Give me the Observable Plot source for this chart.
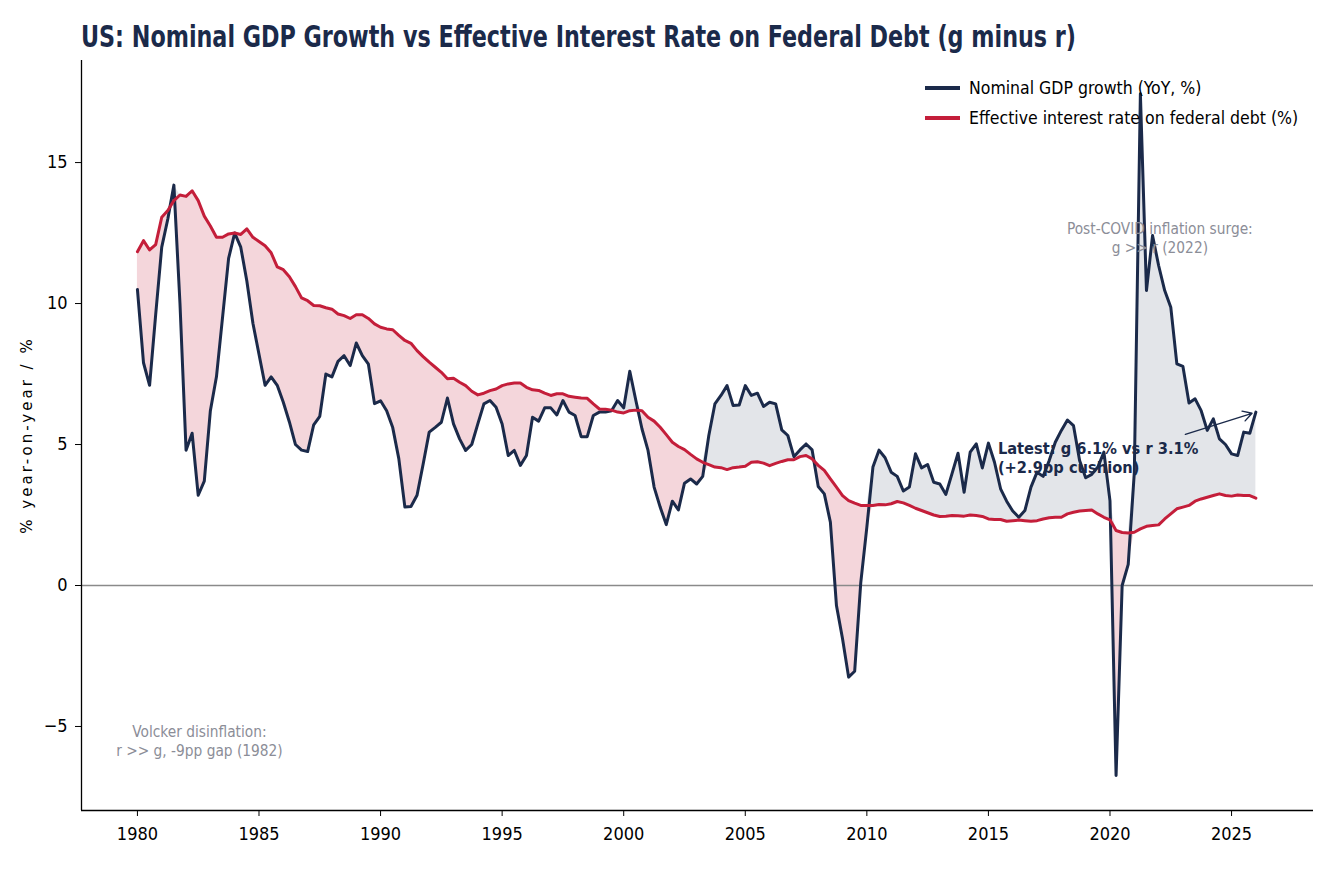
<!DOCTYPE html>
<html>
<head>
<meta charset="utf-8">
<script src="https://cdn.jsdelivr.net/npm/d3@7"></script>
<script src="https://cdn.jsdelivr.net/npm/@observablehq/plot@0.6"></script>
<style>
  body { margin: 0; background: #fff; }
  #wrap { position: relative; width: 1336px; height: 874px; overflow: hidden; }
  #title { position: absolute; left: 81px; top: 22px; font-family: "DejaVu Sans Condensed"; font-weight: bold; font-size: 30px; line-height: 30px; color: #1b2a4a; white-space: nowrap; transform-origin: 0 50%; }
  #ylabel { position: absolute; left: 27px; top: 435px; transform: translate(-50%, -50%) rotate(-90deg); font-family: "DejaVu Sans"; font-size: 15px; letter-spacing: 3px; color: #000; white-space: nowrap; }
  #legend { position: absolute; left: 925px; top: 73px; font-family: "DejaVu Sans Condensed"; font-size: 17.5px; color: #000; }
  .item { display: flex; align-items: center; height: 30px; }
  .sw { width: 35px; height: 3.2px; margin-right: 9px; }
</style>
</head>
<body>
<div id="wrap">
  <div id="chart"></div>
  <div id="title">US: Nominal GDP Growth vs Effective Interest Rate on Federal Debt (g minus r)</div>
  <div id="ylabel">% year-on-year / %</div>
  <div id="legend"></div>
</div>
<script>
// Quarterly observations starting 1980 Q1
const startYear = 1980;

// Nominal GDP growth, YoY %
const gdpGrowth = [
  10.5, 7.9, 7.1, 9.6,
  12.0, 13.0, 14.2, 10.0,
  4.8, 5.4, 3.2, 3.7,
  6.2, 7.4, 9.5, 11.6,
  12.5, 12.0, 10.8, 9.3,
  8.2, 7.1, 7.4, 7.1,
  6.5, 5.8, 5.0, 4.8,
  4.75, 5.7, 6.0, 7.5,
  7.4, 7.95, 8.15, 7.8,
  8.6, 8.15, 7.85, 6.45,
  6.55, 6.2, 5.6, 4.5,
  2.78, 2.8, 3.2, 4.3,
  5.44, 5.61, 5.79, 6.65,
  5.73, 5.2, 4.79, 5.0,
  5.73, 6.44, 6.56, 6.32,
  5.73, 4.61, 4.79, 4.26,
  4.61, 5.97, 5.83, 6.3,
  6.3, 6.05, 6.56, 6.15,
  6.03, 5.28, 5.28, 6.03,
  6.15, 6.15, 6.2, 6.56,
  6.3, 7.6, 6.56, 5.56,
  4.79, 3.49, 2.78, 2.16,
  2.99, 2.68, 3.63, 3.78,
  3.6, 3.87, 5.32, 6.44,
  6.74, 7.09, 6.38, 6.4,
  7.09, 6.74, 6.82, 6.35,
  6.5, 6.44, 5.52, 5.32,
  4.57, 4.81, 5.02, 4.81,
  3.51, 3.25, 2.25, -0.71,
  -1.89, -3.25, -3.04, 0.1,
  2.07, 4.2, 4.8, 4.53,
  4.02, 3.87, 3.35, 3.49,
  4.67, 4.17, 4.29, 3.66,
  3.6, 3.23, 3.96, 4.69,
  3.31, 4.73, 5.02, 4.17,
  5.05, 4.37, 3.43, 2.99,
  2.64, 2.42, 2.66, 3.49,
  4.02, 3.87, 4.43, 5.08,
  5.5, 5.87, 5.67, 4.43,
  3.82, 3.94, 4.2, 4.73,
  3.0, -6.74, 0.0, 0.75,
  4.0, 17.44, 10.46, 12.41,
  11.35, 10.46, 9.87, 7.86,
  7.77, 6.47, 6.62, 6.2,
  5.5, 5.91, 5.2, 5.0,
  4.67, 4.61, 5.44, 5.4,
  6.15
];

// Effective interest rate on federal debt, %
const effRate = [
  11.84, 12.23, 11.9, 12.09,
  13.06, 13.3, 13.65, 13.85,
  13.8, 14.0, 13.65, 13.1,
  12.75, 12.35, 12.35, 12.47,
  12.5, 12.45, 12.65, 12.35,
  12.2, 12.05, 11.8, 11.3,
  11.2, 10.95, 10.6, 10.2,
  10.1, 9.93, 9.92, 9.85,
  9.8, 9.63, 9.57, 9.47,
  9.6, 9.6, 9.47, 9.28,
  9.16, 9.1, 9.07, 8.87,
  8.69, 8.59, 8.33, 8.12,
  7.92, 7.74, 7.56, 7.33,
  7.35, 7.21, 7.09, 6.89,
  6.76, 6.82, 6.91, 6.97,
  7.09, 7.15, 7.18, 7.18,
  7.03, 6.94, 6.92, 6.82,
  6.74, 6.8, 6.8, 6.71,
  6.68, 6.65, 6.64, 6.44,
  6.26, 6.25, 6.22, 6.15,
  6.12, 6.2, 6.22, 6.2,
  5.97, 5.83, 5.61, 5.35,
  5.08, 4.93, 4.82, 4.65,
  4.49, 4.37, 4.29, 4.2,
  4.18, 4.11, 4.18, 4.2,
  4.23, 4.37, 4.39, 4.34,
  4.25, 4.33, 4.4, 4.46,
  4.46, 4.57, 4.61, 4.49,
  4.26, 4.08, 3.78, 3.49,
  3.19, 3.01, 2.92, 2.84,
  2.84, 2.84, 2.87, 2.86,
  2.9, 2.98, 2.93, 2.84,
  2.74, 2.66, 2.58, 2.5,
  2.45, 2.46, 2.48, 2.47,
  2.46, 2.5, 2.48, 2.45,
  2.36, 2.34, 2.34, 2.28,
  2.3, 2.32, 2.3, 2.28,
  2.3, 2.36, 2.4, 2.42,
  2.42, 2.54, 2.6, 2.64,
  2.66, 2.68, 2.54, 2.42,
  2.33, 1.95, 1.88, 1.86,
  1.89, 2.01, 2.1, 2.13,
  2.15, 2.36, 2.54, 2.72,
  2.78, 2.84, 2.99, 3.07,
  3.13, 3.19, 3.25, 3.19,
  3.17, 3.21, 3.19, 3.19,
  3.1
];

const xTicks = [1980, 1985, 1990, 1995, 2000, 2005, 2010, 2015, 2020, 2025];
const yTicks = [-5, 0, 5, 10, 15];
const seriesNames = ["Nominal GDP growth (YoY, %)", "Effective interest rate on federal debt (%)"];

const annotations = [
  {x: 1982.55, y: -5.48, text: "Volcker disinflation:\nr >> g, -9pp gap (1982)"},
  {x: 2022.05, y: 12.36, text: "Post-COVID inflation surge:\ng >> r (2022)"}
];
const latestNote = {x: 2015.39, y: 4.53, text: "Latest: g 6.1% vs r 3.1%\n(+2.9pp cushion)"};
const arrowStart = {x: 2023.1, y: 5.36};

const navy = "#1b2a4a";
const red = "#c41e3a";

const data = gdpGrowth.map((g, i) => {
  const r = effRate[i];
  return {t: startYear + i / 4, g, r, lo: Math.min(g, r), hi: Math.max(g, r)};
});
const last = data[data.length - 1];

const xDomain = [1977.7, 2028.37];
const yDomain = [-7.98, 18.62];

const fmtY = d => d < 0 ? "\u2212" + Math.abs(d) : String(d);

const chart = Plot.plot({
  width: 1336,
  height: 874,
  marginTop: 60,
  marginBottom: 64,
  marginLeft: 81,
  marginRight: 23,
  style: {fontFamily: "DejaVu Sans Condensed", fontSize: "18px", color: "#000", background: "#fff", overflow: "visible"},
  x: {domain: xDomain},
  y: {domain: yDomain},
  marks: [
    Plot.areaY(data, {x: "t", y1: "r", y2: "lo", fill: red, fillOpacity: 0.18}),
    Plot.areaY(data, {x: "t", y1: "hi", y2: "r", fill: navy, fillOpacity: 0.12}),
    Plot.ruleY([0], {stroke: "#8a8a8a", strokeWidth: 1.3}),
    Plot.lineY(data, {x: "t", y: "g", stroke: navy, strokeWidth: 3, strokeLinejoin: "round"}),
    Plot.lineY(data, {x: "t", y: "r", stroke: red, strokeWidth: 3, strokeLinejoin: "round"}),
    Plot.axisX({ticks: xTicks, tickFormat: d => String(d), tickSize: 6, tickPadding: 11, label: null, fontSize: 18, stroke: "#000"}),
    Plot.axisY({ticks: yTicks, tickFormat: fmtY, tickSize: 6, tickPadding: 8, label: null, fontSize: 18, stroke: "#000"}),
    Plot.ruleX([xDomain[0]], {stroke: "#000", strokeWidth: 1.3}),
    Plot.ruleY([yDomain[0]], {stroke: "#000", strokeWidth: 1.3}),
    Plot.text(annotations, {x: "x", y: "y", text: "text", fill: "#8b8d97", fontSize: 15.3, lineHeight: 1.24, textAnchor: "middle"}),
    Plot.text([latestNote], {x: "x", y: "y", text: "text", fill: navy, fontSize: 16.3, fontWeight: "bold", lineHeight: 1.17, textAnchor: "start"}),
    Plot.arrow([last], {x1: () => arrowStart.x, y1: () => arrowStart.y, x2: "t", y2: "g", stroke: navy, strokeWidth: 1.4, headLength: 11, insetEnd: 4})
  ]
});
document.getElementById("chart").appendChild(chart);

const legend = d3.select("#legend");
[[seriesNames[0], navy], [seriesNames[1], red]].forEach(([name, color]) => {
  const it = legend.append("div").attr("class", "item");
  it.append("div").attr("class", "sw").style("background", color);
  it.append("span").text(name);
});

// fit title to reference width
const titleEl = document.getElementById("title");
const tw = titleEl.getBoundingClientRect().width;
const targetW = 995;
if (tw > 0) titleEl.style.transform = `scaleX(${targetW / tw})`;
</script>
</body>
</html>
